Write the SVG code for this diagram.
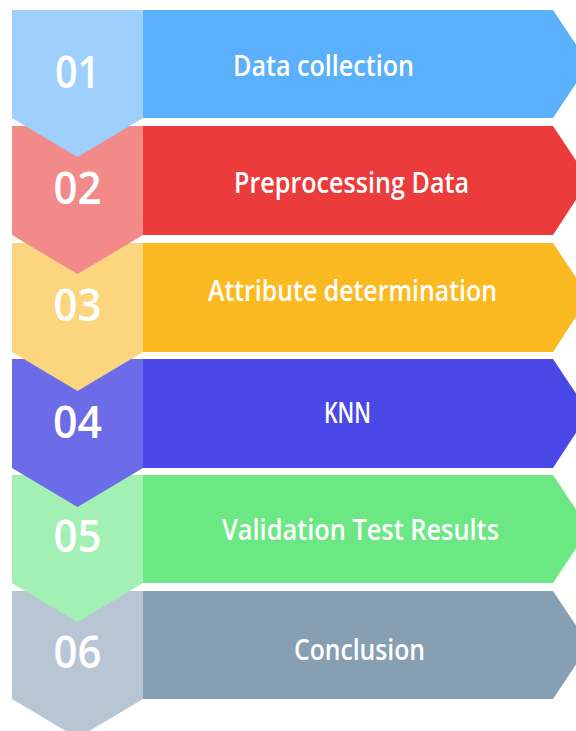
<svg xmlns="http://www.w3.org/2000/svg" width="576" height="731" viewBox="0 0 576 731">
<style>
.num{font-family:"Open Sans","Noto Sans","Liberation Sans",sans-serif;font-weight:600;font-size:46px;fill:#ffffff;}
.lbl{font-family:"Open Sans","Noto Sans","Liberation Sans",sans-serif;font-weight:600;font-size:28px;fill:#ffffff;}
</style>
<rect width="576" height="731" fill="#ffffff"/>
<g id="connectors"></g>
<g id="step6">
<polygon points="143,591 553,591 589,645 553,699 143,699" fill="#879FB3"/>
<polygon points="12,591 143,591 143,699 77.5,738 12,699" fill="#B8C6D4"/>
<text class="num" x="77.5" y="668" text-anchor="middle" textLength="48" lengthAdjust="spacingAndGlyphs">06</text>
<text class="lbl" x="294" y="660" textLength="131" lengthAdjust="spacingAndGlyphs">Conclusion</text>
</g>
<g id="step5">
<polygon points="143,475 553,475 589,529 553,583 143,583" fill="#6BE884"/>
<polygon points="12,475 143,475 143,583 77.5,622 12,583" fill="#A3F0B4"/>
<text class="num" x="77.5" y="552" text-anchor="middle" textLength="48" lengthAdjust="spacingAndGlyphs">05</text>
<text class="lbl" x="222" y="540" textLength="277" lengthAdjust="spacingAndGlyphs">Validation Test Results</text>
</g>
<g id="step4">
<polygon points="143,359 553,359 589,413 553,468 143,468" fill="#4A48E6"/>
<polygon points="12,359 143,359 143,468 77.5,507 12,468" fill="#6C6BE8"/>
<text class="num" x="77.5" y="438" text-anchor="middle" textLength="49" lengthAdjust="spacingAndGlyphs">04</text>
<text class="lbl" x="324" y="423" textLength="47" lengthAdjust="spacingAndGlyphs">KNN</text>
</g>
<g id="step3">
<polygon points="143,243 553,243 589,297 553,352 143,352" fill="#FBBA22"/>
<polygon points="12,243 143,243 143,352 77.5,391 12,352" fill="#FCD57F"/>
<text class="num" x="77.5" y="321" text-anchor="middle" textLength="48" lengthAdjust="spacingAndGlyphs">03</text>
<text class="lbl" x="208" y="301" textLength="289" lengthAdjust="spacingAndGlyphs">Attribute determination</text>
</g>
<g id="step2">
<polygon points="143,126 553,126 589,180 553,235 143,235" fill="#EB3B3B"/>
<polygon points="12,126 143,126 143,235 77.5,274 12,235" fill="#F28A8A"/>
<text class="num" x="77.5" y="204" text-anchor="middle" textLength="48" lengthAdjust="spacingAndGlyphs">02</text>
<text class="lbl" x="234" y="193" textLength="235" lengthAdjust="spacingAndGlyphs">Preprocessing Data</text>
</g>
<g id="step1">
<polygon points="143,10 553,10 589,64 553,118 143,118" fill="#5AB0FA"/>
<polygon points="12,10 143,10 143,118 77.5,157 12,118" fill="#9FD0FD"/>
<text class="num" x="77.5" y="88" text-anchor="middle" textLength="45" lengthAdjust="spacingAndGlyphs">01</text>
<text class="lbl" x="233" y="76" textLength="181" lengthAdjust="spacingAndGlyphs">Data collection</text>
</g>
</svg>
